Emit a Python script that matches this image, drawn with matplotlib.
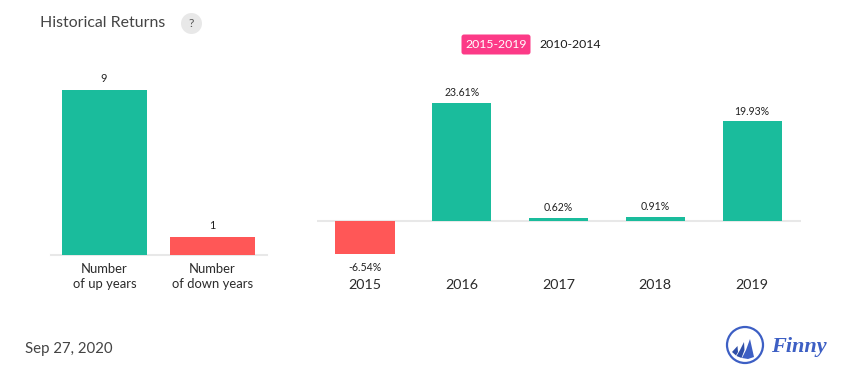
import matplotlib
matplotlib.use("Agg")
import matplotlib.pyplot as plt
from matplotlib.patches import Circle, FancyBboxPatch, Polygon

plt.rcParams['font.family'] = ['Lato', 'DejaVu Sans']

count_labels = ["Number\nof up years", "Number\nof down years"]
count_values = [9, 1]
years = ["2015", "2016", "2017", "2018", "2019"]
returns = [-6.54, 23.61, 0.62, 0.91, 19.93]

GREEN = "#1abc9c"
RED = "#ff5757"
W, H = 855, 382
fig = plt.figure(figsize=(W / 100, H / 100), dpi=100, facecolor="white")


def box(x0, x1, ytop, ybot):
    return fig.add_axes([x0 / W, 1 - ybot / H, (x1 - x0) / W, (ybot - ytop) / H])


def clean(ax):
    for s in ax.spines.values():
        s.set_visible(False)
    ax.set_yticks([])
    ax.patch.set_alpha(0)
    ax.tick_params(axis='x', length=0)


# left chart
ax1 = box(50.5, 266.5, 90, 255)
ax1.set_xlim(-0.5, 1.5)
ax1.set_ylim(0, 9)
clean(ax1)
ax1.axhline(0, color="#e8e8e8", lw=1.5, zorder=1, clip_on=False)
ax1.bar(range(2), count_values, width=0.778,
        color=[GREEN, RED], zorder=2)
for i, v in enumerate(count_values):
    ax1.annotate(str(v), (i, v), xytext=(-0.5, 4.2), textcoords="offset points",
                 ha="center", va="bottom", fontsize=7.8, color="#222222")
ax1.set_xticks(range(2), count_labels)
ax1.tick_params(axis='x', pad=5.7, labelsize=9.4, labelcolor="#2b2b2b")
for t in ax1.get_xticklabels():
    t.set_linespacing(1.32)

# right chart
ax2 = box(316.6, 800.5, 103, 254)
ax2.set_xlim(-0.5, 4.5)
ax2.set_ylim(-6.54, 23.61)
clean(ax2)
ax2.axhline(0, color="#e8e8e8", lw=1.5, zorder=1)
ax2.bar(range(5), returns, width=0.61,
        color=[GREEN if v >= 0 else RED for v in returns], zorder=2)
for i, v in enumerate(returns):
    if v >= 0:
        ax2.annotate(f"{v:.2f}%", (i, v), xytext=(0, 3.4), textcoords="offset points",
                     ha="center", va="bottom", fontsize=7.6, color="#222222")
    else:
        ax2.annotate(f"{v:.2f}%", (i, v), xytext=(0, -6), textcoords="offset points",
                     ha="center", va="top", fontsize=7.6, color="#222222")
ax2.set_xticks(range(5), years)
ax2.tick_params(axis='x', pad=18.2, labelsize=10.3, labelcolor="#2b2b2b")

# overlay in pixel coordinates
ov = fig.add_axes([0, 0, 1, 1], zorder=5)
ov.set_xlim(0, W)
ov.set_ylim(H, 0)
ov.axis("off")
ov.text(40, 23, "Historical Returns", fontsize=11.4, color="#444444", va="center", ha="left")
ov.add_patch(Circle((191.5, 23.5), 10.5, fc="#e8e8e8", ec="none"))
ov.text(191.5, 23.5, "?", fontsize=8.8, color="#555555", va="center", ha="center")
ov.add_patch(FancyBboxPatch((461.5, 34.5), 69, 20, boxstyle="round,pad=0,rounding_size=2.5",
                            fc="#fc3a87", ec="none"))
ov.text(496, 44.5, "2015-2019", fontsize=8.8, color="white", va="center", ha="center")
ov.text(570, 44.5, "2010-2014", fontsize=8.8, color="#1a1a1a", va="center", ha="center")
ov.text(25, 349.5, "Sep 27, 2020", fontsize=10.8, color="#444444", va="center", ha="left")

# logo
BLUE = "#3d5fc4"
ov.add_patch(Circle((745, 345), 18, fc="white", ec=BLUE, lw=1.6))
ov.add_patch(Polygon([(750, 339), (752, 348), (754, 357), (748, 359), (742, 358), (746, 350)], fc=BLUE, ec="none"))
ov.add_patch(Polygon([(744, 342), (744.5, 350), (741.5, 358), (736.5, 356), (740, 350)], fc="#2f4ea8", ec="none"))
ov.add_patch(Polygon([(737.5, 346), (738, 352), (736, 355.5), (732, 352)], fc="#2f4ea8", ec="none"))
ov.text(799, 347, "Finny", fontsize=16, color=BLUE, va="center", ha="center",
        family=["Liberation Serif"], style="italic", weight="bold")

fig.savefig("out.png", dpi=100)
